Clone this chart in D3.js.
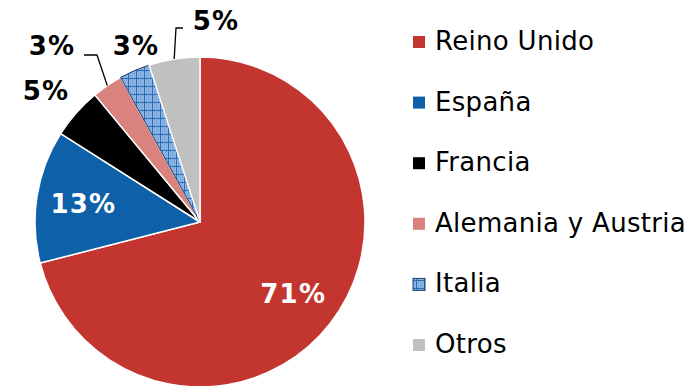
<!DOCTYPE html>
<html>
<head>
<meta charset="utf-8">
<script src="https://cdn.jsdelivr.net/npm/d3@7"></script>
<style>
  html, body { margin: 0; padding: 0; background: #fff; }
  svg { display: block; }
  text { font-family: "DejaVu Sans", Verdana, sans-serif; }
</style>
</head>
<body>
<svg id="chart" width="695" height="386"></svg>
<script>
// Destination markets, share of total (%)
const categories = ["Reino Unido", "España", "Francia", "Alemania y Austria", "Italia", "Otros"];
const shares = [71, 13, 5, 3, 3, 5];
const labels = ["71%", "13%", "5%", "3%", "3%", "5%"];
const colors = ["#C3362F", "#0E60A8", "#000000", "#DA827E", "url(#hatch)", "#C0C0C0"];

const svg = d3.select("#chart");

// Cross-hatched fill used for Italia
const defs = svg.append("defs");
const pat = defs.append("pattern")
  .attr("id", "hatch")
  .attr("patternUnits", "userSpaceOnUse")
  .attr("width", 8).attr("height", 8);
pat.append("rect").attr("width", 8).attr("height", 8).attr("fill", "#8DB6E4");
for (let i = 0; i < 8; i += 2) {
  for (let j = (i / 2) % 2; j < 8; j += 2) {
    pat.append("rect").attr("x", i).attr("y", j).attr("width", 1).attr("height", 1).attr("fill", "#6C9AD3");
  }
}
pat.append("path").attr("d", "M0,0.5H8M0.5,0V8")
  .attr("stroke", "#2C6DB8").attr("stroke-width", 1).attr("fill", "none");

const cx = 200, cy = 222, R = 165;
const g = svg.append("g").attr("transform", `translate(${cx},${cy})`);

const pie = d3.pie().sort(null).value(d => d.v);
const data = pie(categories.map((c, i) => ({ c, v: shares[i], i })));

const arc = d3.arc().innerRadius(0).outerRadius(R);
const rimArc = d3.arc().innerRadius(R).outerRadius(R);
const innerLabelArc = d3.arc().innerRadius(118).outerRadius(118);

g.selectAll("path.slice")
  .data(data)
  .join("path")
  .attr("class", "slice")
  .attr("d", arc)
  .attr("fill", d => colors[d.data.i])
  .attr("stroke", d => d.data.i === 4 ? "#1F3F6E" : "#ffffff")
  .attr("stroke-width", d => d.data.i === 4 ? 1 : 1.5)
  .attr("stroke-linejoin", "round");

// Label placement: inside for large slices, outside (with leader) for small ones
const labelLayout = {
  0: { inside: true },
  1: { inside: true },
  2: { x: 46, y: 100 },
  3: { x: 52, y: 55, leader: [[84, 55], [97, 55]] },
  4: { x: 136, y: 55 },
  5: { x: 216, y: 30, leader: [[183, 28], [176, 28]] }
};

const labelStyle = sel => sel
  .attr("text-anchor", "middle")
  .attr("font-size", 26).attr("font-weight", "bold")
  .attr("letter-spacing", 1.2);

data.forEach(d => {
  const i = d.data.i;
  const L = labelLayout[i];
  if (L.inside) {
    const [x, y] = innerLabelArc.centroid(d);
    g.append("text")
      .attr("x", x).attr("y", y)
      .attr("dominant-baseline", "central")
      .call(labelStyle)
      .attr("fill", "#ffffff")
      .text(labels[i]);
  } else {
    if (L.leader) {
      const [ex, ey] = rimArc.centroid(d);
      const pts = L.leader.map(p => [p[0] - cx, p[1] - cy]).concat([[ex, ey]]);
      g.append("path")
        .attr("d", d3.line()(pts))
        .attr("fill", "none")
        .attr("stroke", "#000")
        .attr("stroke-width", 1.3);
    }
    svg.append("text")
      .attr("x", L.x).attr("y", L.y)
      .call(labelStyle)
      .attr("fill", "#000")
      .text(labels[i]);
  }
});

// Legend
const legend = svg.append("g");
const rowY = d3.scalePoint().domain(categories).range([50, 353]);
categories.forEach((c, i) => {
  const y = rowY(c);
  legend.append("rect")
    .attr("x", 413).attr("y", y - 14)
    .attr("width", 12).attr("height", 12)
    .attr("fill", colors[i])
    .attr("stroke", i === 4 ? "#1F3F6E" : "none")
    .attr("stroke-width", i === 4 ? 1 : 0);
  legend.append("text")
    .attr("x", 435).attr("y", y)
    .attr("font-size", 26)
    .attr("letter-spacing", 0.3)
    .attr("fill", "#000")
    .text(c);
});
</script>
</body>
</html>
